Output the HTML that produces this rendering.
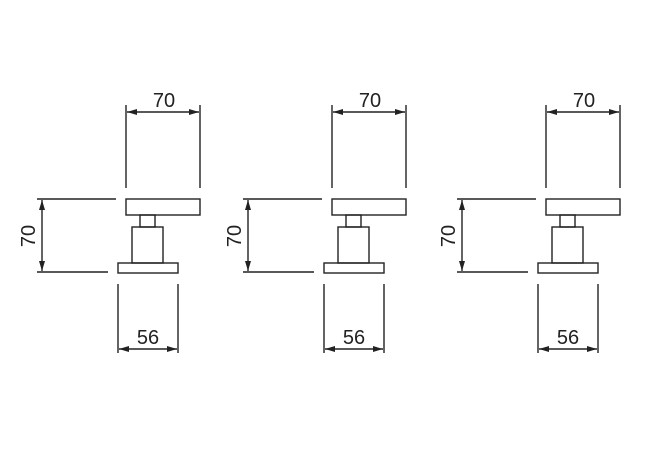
<!DOCTYPE html>
<html><head><style>body{margin:0;background:#fff}svg{display:block}</style></head><body>
<svg width="670" height="472" viewBox="0 0 670 472" xmlns="http://www.w3.org/2000/svg">
<defs>
<marker id="a" viewBox="0 0 10 6" refX="10" refY="3" markerWidth="10" markerHeight="6" markerUnits="userSpaceOnUse" orient="auto-start-reverse"><path d="M0,0L10,3L0,6z" fill="#222"/></marker>
<g id="u" stroke="#222" stroke-width="1.4" fill="none">
<line x1="126" y1="105" x2="126" y2="188"/><line x1="200" y1="105" x2="200" y2="188"/>
<line x1="127" y1="112" x2="199" y2="112" marker-start="url(#a)" marker-end="url(#a)"/>
<rect x="126" y="199" width="74" height="16"/>
<rect x="140" y="215" width="15" height="12"/>
<rect x="132" y="227" width="31" height="36"/>
<rect x="118" y="263" width="60" height="10"/>
<line x1="37" y1="199" x2="116" y2="199"/><line x1="37" y1="272" x2="108" y2="272"/>
<line x1="42" y1="200" x2="42" y2="271" marker-start="url(#a)" marker-end="url(#a)"/>
<line x1="118" y1="284" x2="118" y2="353"/><line x1="178" y1="284" x2="178" y2="353"/>
<line x1="119" y1="349" x2="177" y2="349" marker-start="url(#a)" marker-end="url(#a)"/>
<g stroke="none" fill="#222" font-family="Liberation Sans, sans-serif" font-size="20">
<text x="164" y="107" text-anchor="middle">70</text>
<text x="148" y="344" text-anchor="middle">56</text>
<text transform="translate(35,236) rotate(-90)" text-anchor="middle">70</text>
</g>
</g>
</defs>
<use href="#u"/>
<use href="#u" x="206"/>
<use href="#u" x="420"/>
</svg>
</body></html>
